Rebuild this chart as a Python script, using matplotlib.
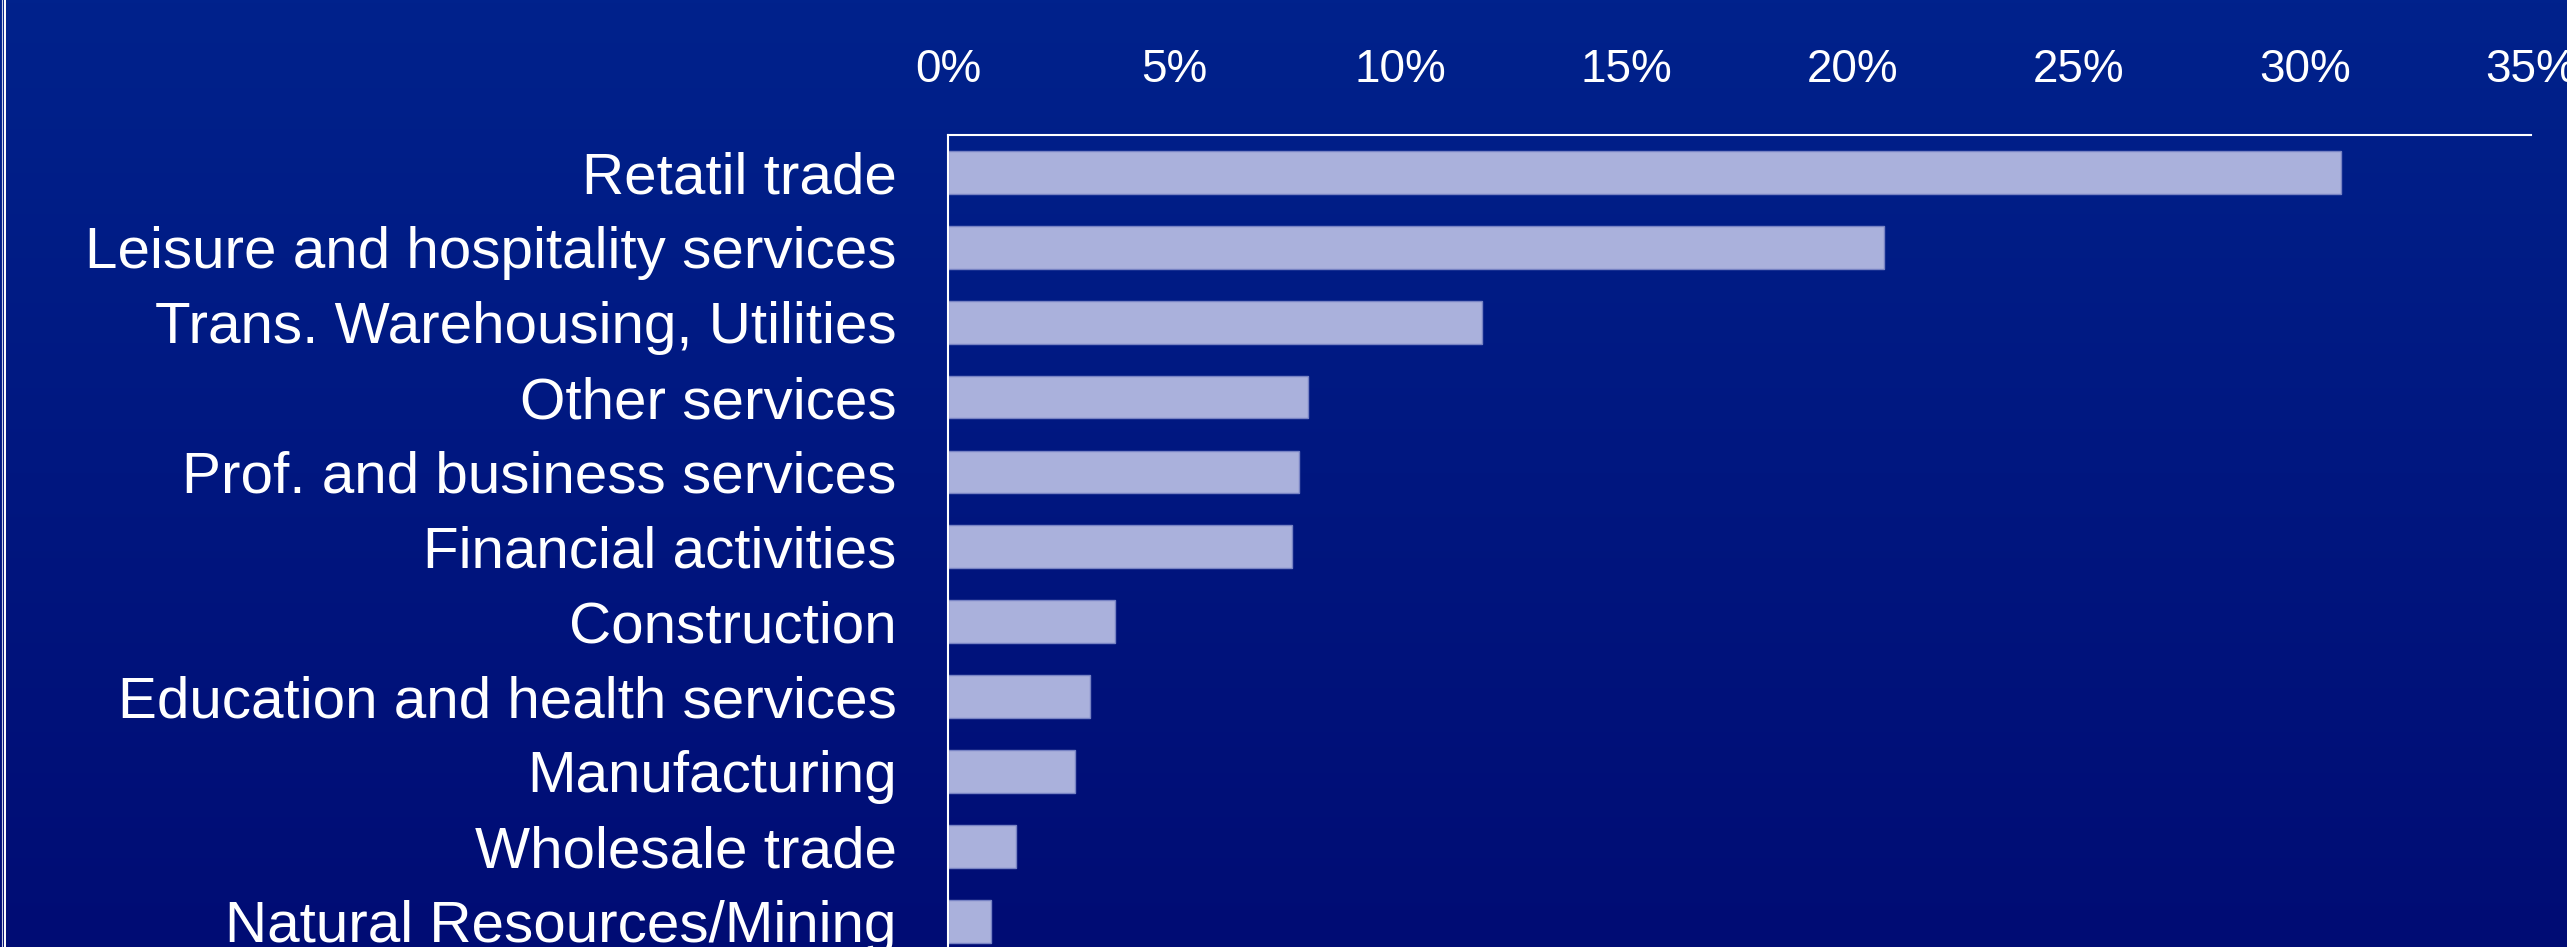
import numpy as np
import matplotlib
matplotlib.use("Agg")
import matplotlib.pyplot as plt
from matplotlib.lines import Line2D

categories = [
    "Retatil trade",
    "Leisure and hospitality services",
    "Trans. Warehousing, Utilities",
    "Other services",
    "Prof. and business services",
    "Financial activities",
    "Construction",
    "Education and health services",
    "Manufacturing",
    "Wholesale trade",
    "Natural Resources/Mining",
]
values = [30.8, 20.7, 11.8, 7.95, 7.75, 7.6, 3.7, 3.15, 2.8, 1.5, 0.95]
tick_values = [0, 5, 10, 15, 20, 25, 30, 35]
tick_labels = ["0%", "5%", "10%", "15%", "20%", "25%", "30%", "35%"]

plt.rcParams['font.family'] = ['Liberation Sans', 'DejaVu Sans']

W, H = 2567, 947
fig = plt.figure(figsize=(W / 100, H / 100), dpi=100)

# gradient background
bg = fig.add_axes([0, 0, 1, 1])
top = np.array([0, 34, 140]) / 255
bot = np.array([0, 12, 116]) / 255
t = np.linspace(0, 1, 256)[:, None]
grad = (top[None, :] * (1 - t) + bot[None, :] * t)[:, None, :]
bg.imshow(grad, aspect='auto', extent=[0, 1, 0, 1], origin='upper')
bg.set_xlim(0, 1)
bg.set_ylim(0, 1)
bg.axis('off')
# left double white border
bg.add_line(Line2D([1.5 / W, 1.5 / W], [0, 1], color='white', lw=0.8, alpha=0.8))
bg.add_line(Line2D([5.0 / W, 5.0 / W], [0, 1], color='white', lw=1.4))

x0, x1 = 948 / W, 2531 / W
ytop = (H - 135) / H
ybot = (H - 958.6) / H
ax = fig.add_axes([x0, ybot, x1 - x0, ytop - ybot])
ax.patch.set_alpha(0)

ypos = np.arange(len(categories))
ax.barh(ypos, values, height=0.57, color='#AAB1DC', edgecolor='#7783C4', linewidth=1.0)
ax.set_ylim(len(categories) - 0.5, -0.5)
ax.set_xlim(0, 35)

ax.xaxis.tick_top()
ax.set_xticks(tick_values)
ax.set_xticklabels(tick_labels)
ax.set_yticks(ypos)
ax.set_yticklabels(categories)
ax.tick_params(axis='x', length=0, pad=31, labelsize=33, colors='white')
ax.tick_params(axis='y', length=0, pad=37, labelsize=42, colors='white')
for s in ['right', 'bottom']:
    ax.spines[s].set_visible(False)
for s in ['top', 'left']:
    ax.spines[s].set_color('white')
    ax.spines[s].set_linewidth(1.5)

fig.savefig("out.png", dpi=100)
